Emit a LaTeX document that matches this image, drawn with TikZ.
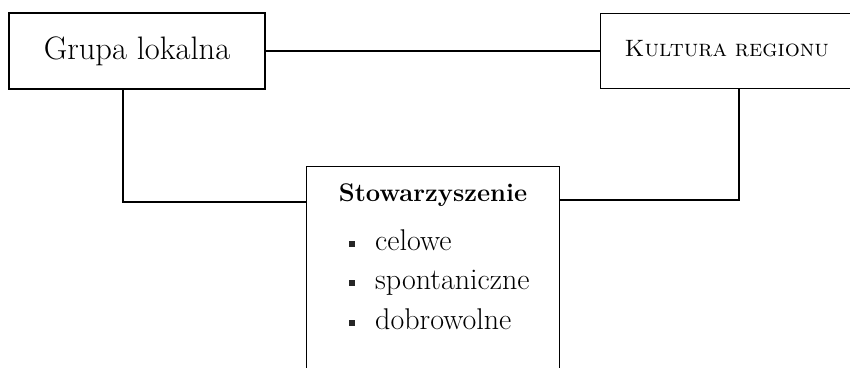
\documentclass[tikz,border=0pt]{standalone}
\begin{document}
\begin{tikzpicture}[x=1pt,y=1pt,
  box/.style={draw=black, line width=1.3pt, rectangle, inner sep=0pt},
  conn/.style={draw=black, line width=1.3pt},
  itemtext/.style={anchor=base west, inner sep=0pt, font=\fontsize{30}{36}\selectfont},
  bulletsq/.style={fill=black!85, draw=none, minimum size=5.5pt, inner sep=0pt, rectangle}]
\useasboundingbox (0,0) rectangle (850,367);
\clip (0,0) rectangle (850,367);
% boxes
\node[box, minimum width=256, minimum height=76, font=\fontsize{32.5}{38}\selectfont] (b1) at (137,316) {Grupa lokalna};
\node[box, anchor=north west, minimum height=75, text width=232pt, inner xsep=24pt, align=left,
      font=\fontsize{23.7}{28}\selectfont] (b2) at (600,354) {\raisebox{5pt}{\textsc{Kultura regionu}}};
\node[box, anchor=north west, minimum width=253, minimum height=230] (b3) at (306,201) {};
% contents of box 3
\node[anchor=base, inner sep=0pt, font=\fontsize{25.5}{30}\selectfont\bfseries] (t3) at (433,165) {Stowarzyszenie};
\node[itemtext] (i1) at (375,117) {celowe};
\node[itemtext] (i2) at (375,78) {spontaniczne};
\node[itemtext] (i3) at (375,38) {dobrowolne};
\node[bulletsq] (p1) at (352,123) {};
\node[bulletsq] (p2) at (352,84) {};
\node[bulletsq] (p3) at (352,44) {};
% connectors
\coordinate (j1) at (123,165);
\coordinate (j2) at (739,167);
\draw[conn] (b1.east) -- (b2.west |- b1.east);
\draw[conn] (b1.south -| j1) |- (b3.west |- j1);
\draw[conn] (b3.east |- j2) -| (b2.south -| j2);
\end{tikzpicture}
\end{document}
